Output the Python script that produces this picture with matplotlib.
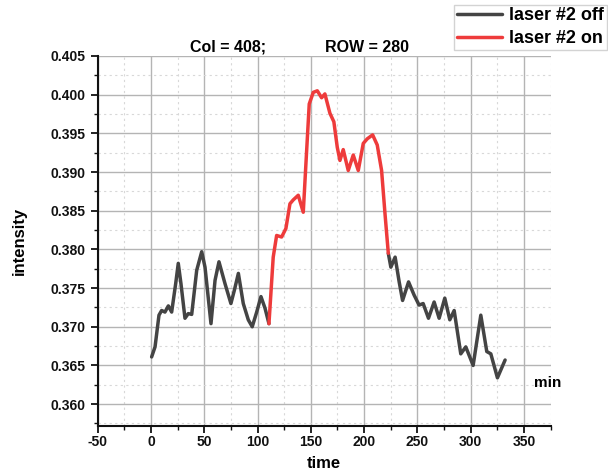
import numpy as np
import matplotlib.pyplot as plt
from matplotlib.ticker import MultipleLocator

plt.rcParams['font.family'] = ['Liberation Sans', 'DejaVu Sans']
plt.rcParams['font.weight'] = 'bold'
plt.rcParams['axes.unicode_minus'] = False

# laser #2 off (first part)
t_off1 = [0.6, 3.8, 7.5, 10.0, 13.1, 16.3, 19.4, 23.2, 25.6, 28.1, 31.9, 35.0,
          38.2, 42.9, 47.6, 50.7, 56.3, 60.1, 63.8, 69.4, 75.0, 78.2, 82.0,
          86.6, 91.3, 95.0, 99.2, 103.2, 107.0, 110.7]
i_off1 = [0.3661, 0.3674, 0.3715, 0.3721, 0.3719, 0.3727, 0.3719, 0.3756, 0.3782,
          0.3756, 0.3711, 0.3717, 0.3716, 0.3773, 0.3797, 0.3777, 0.3704, 0.3760,
          0.3784, 0.3756, 0.3730, 0.3747, 0.3769, 0.3730, 0.3709, 0.3700, 0.3719,
          0.3739, 0.3724, 0.3704]

# laser #2 on
t_on = [110.7, 114.7, 117.9, 122.6, 126.6, 130.4, 133.5, 138.2, 142.9, 145.4,
        148.5, 152.3, 156.1, 160.1, 163.2, 167.9, 171.6, 174.8, 177.3, 180.4,
        185.1, 189.8, 194.5, 199.2, 203.0, 208.0, 212.3, 216.4, 219.6, 222.7]
i_on = [0.3704, 0.3790, 0.3818, 0.3816, 0.3827, 0.3859, 0.3864, 0.3870, 0.3848,
        0.3911, 0.3988, 0.4003, 0.4005, 0.3996, 0.4001, 0.3976, 0.3965, 0.3932,
        0.3915, 0.3929, 0.3902, 0.3922, 0.3902, 0.3937, 0.3943, 0.3948, 0.3935,
        0.3902, 0.3846, 0.3795]

# laser #2 off (second part)
t_off2 = [222.7, 225.1, 229.1, 232.9, 236.1, 241.7, 246.9, 251.6, 255.4, 260.4,
          265.7, 270.4, 275.7, 280.4, 284.5, 290.7, 295.4, 302.3, 309.5, 315.1,
          318.9, 325.1, 332.3]
i_off2 = [0.3795, 0.3777, 0.3790, 0.3758, 0.3734, 0.3758, 0.3741, 0.3728, 0.3730,
          0.3711, 0.3732, 0.3711, 0.3737, 0.3709, 0.3721, 0.3665, 0.3674, 0.3650,
          0.3715, 0.3668, 0.3665, 0.3634, 0.3657]

gray = '#444444'
red = '#ee3b3b'

fig = plt.figure(figsize=(6.08, 4.72), dpi=100)
ax = fig.add_axes([0.1607, 0.0979, 0.7449, 0.7835])

kw = dict(lw=2.5, solid_joinstyle='round', solid_capstyle='round')
l_off, = ax.plot(t_off1, i_off1, color=gray, **kw)
ax.plot(t_off2, i_off2, color=gray, **kw)
l_on, = ax.plot(t_on, i_on, color=red, **kw)

ax.set_xlim(-50, 375)
ax.set_ylim(0.3572, 0.405)
ax.xaxis.set_major_locator(MultipleLocator(50))
ax.xaxis.set_minor_locator(MultipleLocator(25))
ax.yaxis.set_major_locator(MultipleLocator(0.005))
ax.yaxis.set_minor_locator(MultipleLocator(0.0025))
ax.yaxis.set_major_formatter(plt.FormatStrFormatter('%.3f'))

ax.grid(which='major', color='#b4b4b4', lw=1.0)
ax.grid(which='minor', color='#d8d8d8', lw=0.8, ls=(0, (2, 3)))
ax.set_axisbelow(True)

for s in ['top', 'right']:
    ax.spines[s].set_visible(False)
for s in ['left', 'bottom']:
    ax.spines[s].set_linewidth(1.5)
    ax.spines[s].set_color('#111111')

ax.tick_params(which='major', direction='out', length=5, width=1.3,
               labelsize=10, colors='#111111')
ax.tick_params(axis='x', which='major', pad=1.5)
ax.tick_params(which='minor', direction='out', length=3, width=1.0,
               colors='#111111')

ax.set_xlabel('time', fontsize=12, fontweight='bold', labelpad=5)
ax.set_ylabel('intensity', fontsize=12, fontweight='bold', labelpad=17)
fig.text(0.878, 0.189, 'min', fontsize=11, fontweight='bold',
         ha='left', va='center')

fig.text(0.313, 0.900, 'Col = 408;', fontsize=11.5, fontweight='bold',
         ha='left', va='center')
fig.text(0.535, 0.900, 'ROW = 280', fontsize=11.5, fontweight='bold',
         ha='left', va='center')

leg = fig.legend([l_off, l_on], ['laser #2 off', 'laser #2 on'],
                 loc='upper left', bbox_to_anchor=(0.747, 0.99),
                 prop={'weight': 'bold', 'size': 13},
                 frameon=True, fancybox=False, handlelength=2.5,
                 handletextpad=0.4, borderpad=0.15, labelspacing=0.3,
                 borderaxespad=0.0)
leg.get_frame().set_edgecolor('#c8c8c8')
leg.get_frame().set_linewidth(1.0)

fig.savefig('out.png', dpi=100)
